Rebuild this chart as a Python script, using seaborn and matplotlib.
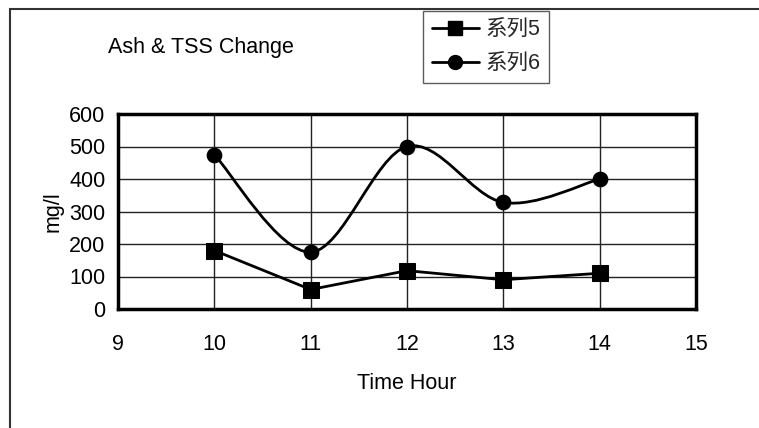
import numpy as np
import pandas as pd
import seaborn as sns
import matplotlib
matplotlib.use("Agg")
import matplotlib.pyplot as plt
from matplotlib.path import Path
from matplotlib.patches import PathPatch, Rectangle
from matplotlib.lines import Line2D

# ---- data ----
hours = [10, 11, 12, 13, 14]
series5 = [180, 60, 118, 90, 110]
series6 = [475, 175, 500, 328, 400]
series_names = ["系列5", "系列6"]
title = "Ash & TSS Change"
x_label = "Time Hour"
y_label = "mg/l"
x_ticks = [9, 10, 11, 12, 13, 14, 15]
y_ticks = [0, 100, 200, 300, 400, 500, 600]

sns.set_theme(style="white")
FAM = ["Liberation Sans", "Noto Sans CJK SC", "DejaVu Sans"]
plt.rcParams["font.family"] = FAM
FS = 15.5

fig = plt.figure(figsize=(7.59, 4.28), dpi=100)
ax = fig.add_axes([118 / 759, 1 - 309 / 428, (696 - 118) / 759, (309 - 114) / 428])

df = pd.DataFrame({"hour": hours, "s5": series5, "s6": series6})

# series 5: straight line with squares
sns.lineplot(data=df, x="hour", y="s5", ax=ax, color="black", linewidth=2,
             marker="s", markersize=11.5, markeredgecolor="black", legend=False, zorder=4)

# series 6: smoothed line (Excel-like Bezier smoothing) with circles
pts = np.column_stack([hours, series6]).astype(float)
verts = [pts[0]]
codes = [Path.MOVETO]
n = len(pts)
for i in range(n - 1):
    p0 = pts[i - 1] if i > 0 else pts[i]
    p1 = pts[i]
    p2 = pts[i + 1]
    p3 = pts[i + 2] if i + 2 < n else pts[i + 1]
    c1 = p1 + (p2 - p0) / 6.0
    c2 = p2 - (p3 - p1) / 6.0
    verts += [c1, c2, p2]
    codes += [Path.CURVE4] * 3
ax.add_patch(PathPatch(Path(verts, codes), facecolor="none", edgecolor="black",
                       linewidth=2, zorder=4))
sns.scatterplot(data=df, x="hour", y="s6", ax=ax, color="black", marker="o",
                s=110, edgecolor="black", legend=False, zorder=5)

ax.set_xlim(9, 15)
ax.set_ylim(0, 600)
ax.set_xticks(x_ticks)
ax.set_yticks(y_ticks)
ax.set_xticklabels([str(t) for t in x_ticks], fontsize=FS)
ax.set_yticklabels([str(t) for t in y_ticks], fontsize=FS)
ax.tick_params(axis="y", length=0, pad=9, colors="black")
ax.tick_params(axis="x", length=0, pad=18, colors="black")
ax.grid(True, color="#222222", linewidth=1)
ax.set_axisbelow(True)
for s in ax.spines.values():
    s.set_visible(True)
    s.set_color("black")
    s.set_linewidth(2.5)
ax.set_xlabel(x_label, fontsize=FS, labelpad=13, color="black")
ax.set_ylabel(y_label, fontsize=FS, labelpad=4, color="black")

# title
fig.text(108 / 759, 1 - 47 / 428, title, fontsize=FS, ha="left", va="center", color="black")

# legend
handles = [
    Line2D([], [], color="black", linewidth=2, marker="s", markersize=10),
    Line2D([], [], color="black", linewidth=2, marker="o", markersize=10),
]
leg = fig.legend(handles, series_names, loc="upper left",
                 bbox_to_anchor=(423 / 759, 1 - 11 / 428), fontsize=FS,
                 frameon=True, fancybox=False, handlelength=2.2, handletextpad=0.3,
                 borderpad=0.4, labelspacing=0.6, borderaxespad=0)
leg.get_frame().set_edgecolor("#333333")
leg.get_frame().set_linewidth(1)

# outer chart border (left and top edges visible)
fig.add_artist(Rectangle((10 / 759, -0.1), 1.2, 1.1 - 9 / 428, transform=fig.transFigure,
                         facecolor="none", edgecolor="#333333", linewidth=1.5))

fig.savefig("out.png", dpi=100)
